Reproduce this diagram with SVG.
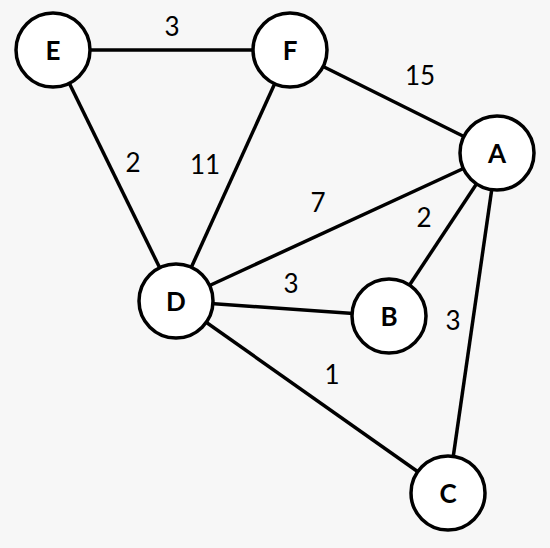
<svg xmlns="http://www.w3.org/2000/svg" width="550" height="548" viewBox="0 0 550 548">
<style>
.edge{stroke:#000;stroke-width:3.5;fill:none}
.node circle{fill:#fff;stroke:#000;stroke-width:3.5}
.node text{font-family:Lato,"Liberation Sans",sans-serif;font-weight:bold;font-size:26px;text-anchor:middle;dominant-baseline:central;fill:#000}
.w{font-family:Lato,"Liberation Sans",sans-serif;font-size:26px;text-anchor:middle;dominant-baseline:central;fill:#000}
</style>
<rect width="550" height="548" fill="#f7f7f7"/>
<g id="connectors">
<line class="edge" x1="53" y1="50" x2="290" y2="50"/>
<line class="edge" x1="290" y1="50" x2="497" y2="153"/>
<line class="edge" x1="53" y1="50" x2="176" y2="301"/>
<line class="edge" x1="290" y1="50" x2="176" y2="301"/>
<line class="edge" x1="176" y1="301" x2="497" y2="153"/>
<line class="edge" x1="389" y1="316" x2="497" y2="153"/>
<line class="edge" x1="176" y1="301" x2="389" y2="316"/>
<line class="edge" x1="497" y1="153" x2="448" y2="493"/>
<line class="edge" x1="176" y1="301" x2="448" y2="493"/>
<text class="w" x="172" y="26">3</text>
<text class="w" x="420" y="75">15</text>
<text class="w" x="133" y="162">2</text>
<text class="w" x="205" y="164">11</text>
<text class="w" x="318" y="202">7</text>
<text class="w" x="424" y="217">2</text>
<text class="w" x="291" y="283">3</text>
<text class="w" x="453" y="320">3</text>
<text class="w" x="332" y="374">1</text>
</g>
<g id="E" class="node"><circle cx="53" cy="50" r="37"/><text x="53" y="50">E</text></g>
<g id="F" class="node"><circle cx="290" cy="50" r="37"/><text x="290" y="50">F</text></g>
<g id="A" class="node"><circle cx="497" cy="153" r="37"/><text x="497" y="153">A</text></g>
<g id="D" class="node"><circle cx="176" cy="301" r="37"/><text x="176" y="301">D</text></g>
<g id="B" class="node"><circle cx="389" cy="316" r="37"/><text x="389" y="316">B</text></g>
<g id="C" class="node"><circle cx="448" cy="493" r="37"/><text x="448" y="493">C</text></g>
</svg>
